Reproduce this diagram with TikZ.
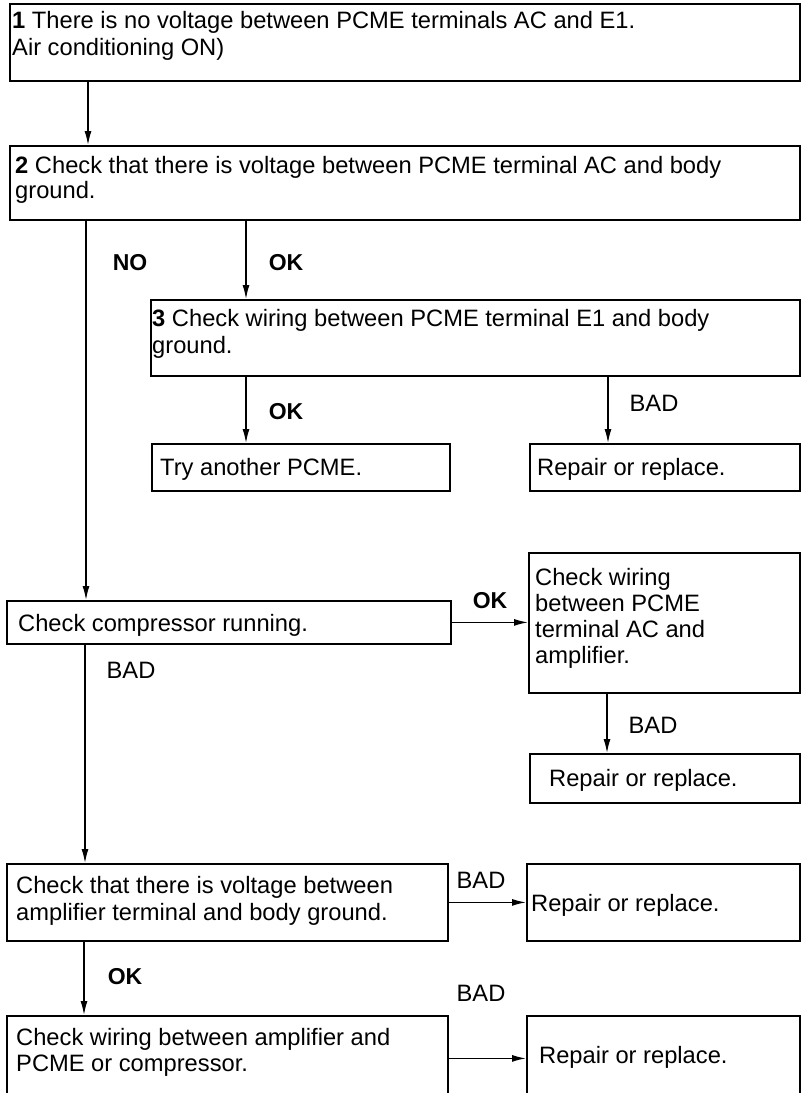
\documentclass[tikz,border=0pt]{standalone}
\usepackage{fontspec}
\setmainfont{Liberation Sans}
\usetikzlibrary{arrows.meta,calc}
\begin{document}
\begin{tikzpicture}[x=1pt,y=-1pt,
  box/.style={draw, line width=1.8pt, inner sep=0pt, anchor=north west, rectangle},
  txt/.style={anchor=north west, inner sep=0pt, align=left, font=\fontsize{23.7}{26}\selectfont},
  lbl/.style={inner sep=0pt, font=\fontsize{23}{25}\selectfont\bfseries},
  bad/.style={inner sep=0pt, font=\fontsize{23.7}{26}\selectfont},
  arr/.style={line width=1.4pt, -{Latex[length=14pt,width=7pt]}}]
\clip (0,0) rectangle (801,1093);
\useasboundingbox (0,0) rectangle (801,1093);
% boxes
\node[box, minimum width=790pt, minimum height=77pt] (b1) at (9,3) {};
\node[box, minimum width=790pt, minimum height=74pt] (b2) at (9,145) {};
\node[box, minimum width=649pt, minimum height=76pt] (b3) at (150,299) {};
\node[box, minimum width=298pt, minimum height=47pt] (try) at (151,443) {};
\node[box, minimum width=270pt, minimum height=47pt] (rep1) at (529,443) {};
\node[box, minimum width=444pt, minimum height=43pt] (comp) at (6,600) {};
\node[box, minimum width=271pt, minimum height=140pt] (ac) at (528,552) {};
\node[box, minimum width=270pt, minimum height=49pt] (rep2) at (529,753) {};
\node[box, minimum width=441pt, minimum height=77pt] (amp) at (6,863) {};
\node[box, minimum width=273pt, minimum height=77pt] (rep3) at (526,863) {};
\node[box, minimum width=441pt, minimum height=85pt] (last) at (6,1015) {};
\node[box, minimum width=273pt, minimum height=85pt] (rep4) at (526,1015) {};
% texts
\node[txt, font=\fontsize{23.7}{27}\selectfont] (t1) at (12,11.5) {\textbf{1} There is no voltage between PCME terminals AC and E1.\\Air conditioning ON)};
\node[txt, font=\fontsize{23.7}{25}\selectfont] (t2) at (15,156.5) {\textbf{2} Check that there is voltage between PCME terminal AC and body\\ground.};
\node[txt, font=\fontsize{23.7}{27}\selectfont] (t3) at (152,309.5) {\textbf{3} Check wiring between PCME terminal E1 and body\\ground.};
\node[txt] (ttry) at (160,458.5) {Try another PCME.};
\node[txt] (trep1) at (537,458.5) {Repair or replace.};
\node[txt] (tcomp) at (18,614.5) {Check compressor running.};
\node[txt, font=\fontsize{23.7}{26}\selectfont] (tac) at (535,568.5) {Check wiring\\between PCME\\terminal AC and\\amplifier.};
\node[txt] (trep2) at (549,769.5) {Repair or replace.};
\node[txt, font=\fontsize{23.7}{27}\selectfont] (tamp) at (16,876.5) {Check that there is voltage between\\amplifier terminal and body ground.};
\node[txt] (trep3) at (531,894.5) {Repair or replace.};
\node[txt, font=\fontsize{23.7}{25.5}\selectfont] (tlast) at (16,1028.5) {Check wiring between amplifier and\\PCME or compressor.};
\node[txt] (trep4) at (539,1046.5) {Repair or replace.};
% column coordinates
\coordinate (c1) at (88,0);
\coordinate (c2) at (86,0);
\coordinate (c3) at (246,0);
\coordinate (c4) at (608,0);
\coordinate (c5) at (85,0);
\coordinate (c6) at (607,0);
\coordinate (c7) at (84,0);
% connectors
\draw[arr] (c1 |- b1.south) -- (c1 |- b2.north);
\draw[arr] (c2 |- b2.south) -- (c2 |- comp.north);
\draw[arr] (c3 |- b2.south) -- (c3 |- b3.north);
\draw[arr] (c3 |- b3.south) -- (c3 |- try.north);
\draw[arr] (c4 |- b3.south) -- (c4 |- rep1.north);
\draw[arr] (comp.east) -- (comp.east -| ac.west);
\draw[arr] (c5 |- comp.south) -- (c5 |- amp.north);
\draw[arr] (c6 |- ac.south) -- (c6 |- rep2.north);
\draw[arr] (amp.east) -- (amp.east -| rep3.west);
\draw[arr] (c7 |- amp.south) -- (c7 |- last.north);
\draw[arr] (last.east) -- (last.east -| rep4.west);
% labels
\node[lbl] (lno) at (130,263) {NO};
\node[lbl] (lok1) at (286,263) {OK};
\node[lbl] (lok2) at (286,412) {OK};
\node[bad] (lbad1) at (654,403) {BAD};
\node[lbl] (lok3) at (490,601) {OK};
\node[bad] (lbad2) at (131,670) {BAD};
\node[bad] (lbad3) at (653,725) {BAD};
\node[bad] (lbad4) at (481,880) {BAD};
\node[lbl] (lok4) at (125,977) {OK};
\node[bad] (lbad5) at (481,993) {BAD};
\end{tikzpicture}
\end{document}
